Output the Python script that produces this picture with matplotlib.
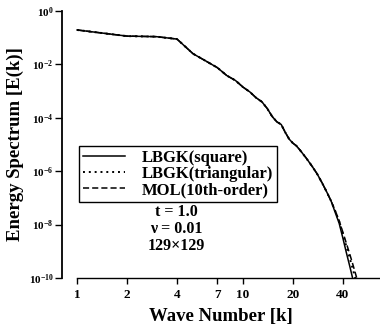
# Energy spectrum E(k) vs wave number, LBGK vs MOL
import numpy as np
from matplotlib import pyplot as plt

plt.rcParams['font.family'] = ['Liberation Serif', 'DejaVu Serif']
plt.rcParams['font.weight'] = 'bold'
plt.rcParams['mathtext.fontset'] = 'custom'
plt.rcParams['mathtext.rm'] = 'Liberation Serif:bold'
plt.rcParams['mathtext.bf'] = 'Liberation Serif:bold'

# wave numbers
k = [1, 2, 3, 4, 5, 6, 7, 8, 9, 10, 11, 12, 13, 14, 15, 16, 17, 18, 19, 20,
     21, 22, 24, 26, 28, 30, 32, 34, 36, 38, 40, 42, 44, 46, 48, 50]

# log10 E(k)
log_e_square = [-0.71, -0.94, -0.96, -1.05, -1.60, -1.88, -2.12, -2.42, -2.60, -2.85,
                -3.03, -3.25, -3.40, -3.65, -3.95, -4.15, -4.25, -4.55, -4.80, -4.95,
                -5.05, -5.20, -5.50, -5.80, -6.10, -6.44, -6.78, -7.12, -7.55, -7.95,
                -8.50, -9.05, -9.55, -10.05, -10.5, -11.0]
log_e_triangular = [-0.71, -0.94, -0.96, -1.05, -1.60, -1.88, -2.12, -2.42, -2.60, -2.85,
                    -3.03, -3.25, -3.40, -3.65, -3.95, -4.15, -4.25, -4.55, -4.80, -4.95,
                    -5.05, -5.20, -5.50, -5.80, -6.10, -6.44, -6.78, -7.12, -7.50, -7.88,
                    -8.35, -8.82, -9.25, -9.68, -10.1, -10.5]
log_e_mol = [-0.71, -0.94, -0.96, -1.05, -1.60, -1.88, -2.12, -2.42, -2.60, -2.85,
             -3.03, -3.25, -3.40, -3.65, -3.95, -4.15, -4.25, -4.55, -4.80, -4.95,
             -5.05, -5.20, -5.50, -5.80, -6.10, -6.44, -6.78, -7.12, -7.48, -7.85,
             -8.28, -8.70, -9.10, -9.50, -9.90, -10.3]

x_ticks = [1, 2, 4, 7, 10, 20, 40]
y_ticks = [1e0, 1e-2, 1e-4, 1e-6, 1e-8, 1e-10]
y_tick_labels = [r'$\mathbf{10^{0}}$', r'$\mathbf{10^{-2}}$', r'$\mathbf{10^{-4}}$',
                 r'$\mathbf{10^{-6}}$', r'$\mathbf{10^{-8}}$', r'$\mathbf{10^{-10}}$']
info_lines = ['t = 1.0', '\u03bd = 0.01', '129\u00d7129']

fig = plt.figure(figsize=(3.8, 3.36), dpi=100)
ax = fig.add_axes([0.163, 0.1726, 0.837, 0.7946])

ax.plot(k, 10 ** np.array(log_e_square), color='black', lw=1.1, ls='-',
        label='LBGK(square)')
ax.plot(k, 10 ** np.array(log_e_triangular), color='black', lw=1.4, ls=(0, (1, 2)),
        label='LBGK(triangular)')
ax.plot(k, 10 ** np.array(log_e_mol), color='black', lw=1.1, ls=(0, (4, 2)),
        label='MOL(10th-order)')

ax.set_xscale('log')
ax.set_yscale('log')
ax.set_xlim(0.81, 67)
ax.set_ylim(1e-10, 1e0)

ax.set_xticks(x_ticks)
ax.set_xticklabels([str(t) for t in x_ticks])
ax.xaxis.set_minor_locator(plt.NullLocator())
ax.set_yticks(y_ticks)
ax.set_yticklabels(y_tick_labels)
ax.yaxis.set_minor_locator(plt.NullLocator())
ax.tick_params(axis='x', direction='out', length=4, width=1, labelsize=9.5, pad=4)
ax.tick_params(axis='y', direction='out', length=5, width=1, labelsize=8, pad=1)

for side in ['top', 'right']:
    ax.spines[side].set_visible(False)
ax.spines['left'].set_linewidth(1.3)
ax.spines['bottom'].set_linewidth(1.0)
ax.spines['bottom'].set_bounds(1, 67)

ax.set_xlabel('Wave Number [k]', fontsize=13.5, fontweight='bold', labelpad=5)
ax.set_ylabel('Energy Spectrum [E(k)]', fontsize=13.5, fontweight='bold', labelpad=3)

leg = ax.legend(loc='upper left', bbox_to_anchor=(0.053, 0.494), borderaxespad=0,
                fontsize=12, handlelength=2.5, handletextpad=1.0, labelspacing=0.0,
                borderpad=0.25, fancybox=False, framealpha=1, edgecolor='black')
leg.get_frame().set_linewidth(1.0)

for i, line in enumerate(info_lines):
    ax.text(0.36, 0.247 - 0.064 * i, line, transform=ax.transAxes,
            ha='center', va='center', fontsize=11.5, fontweight='bold')

fig.savefig('out.png', dpi=100)
